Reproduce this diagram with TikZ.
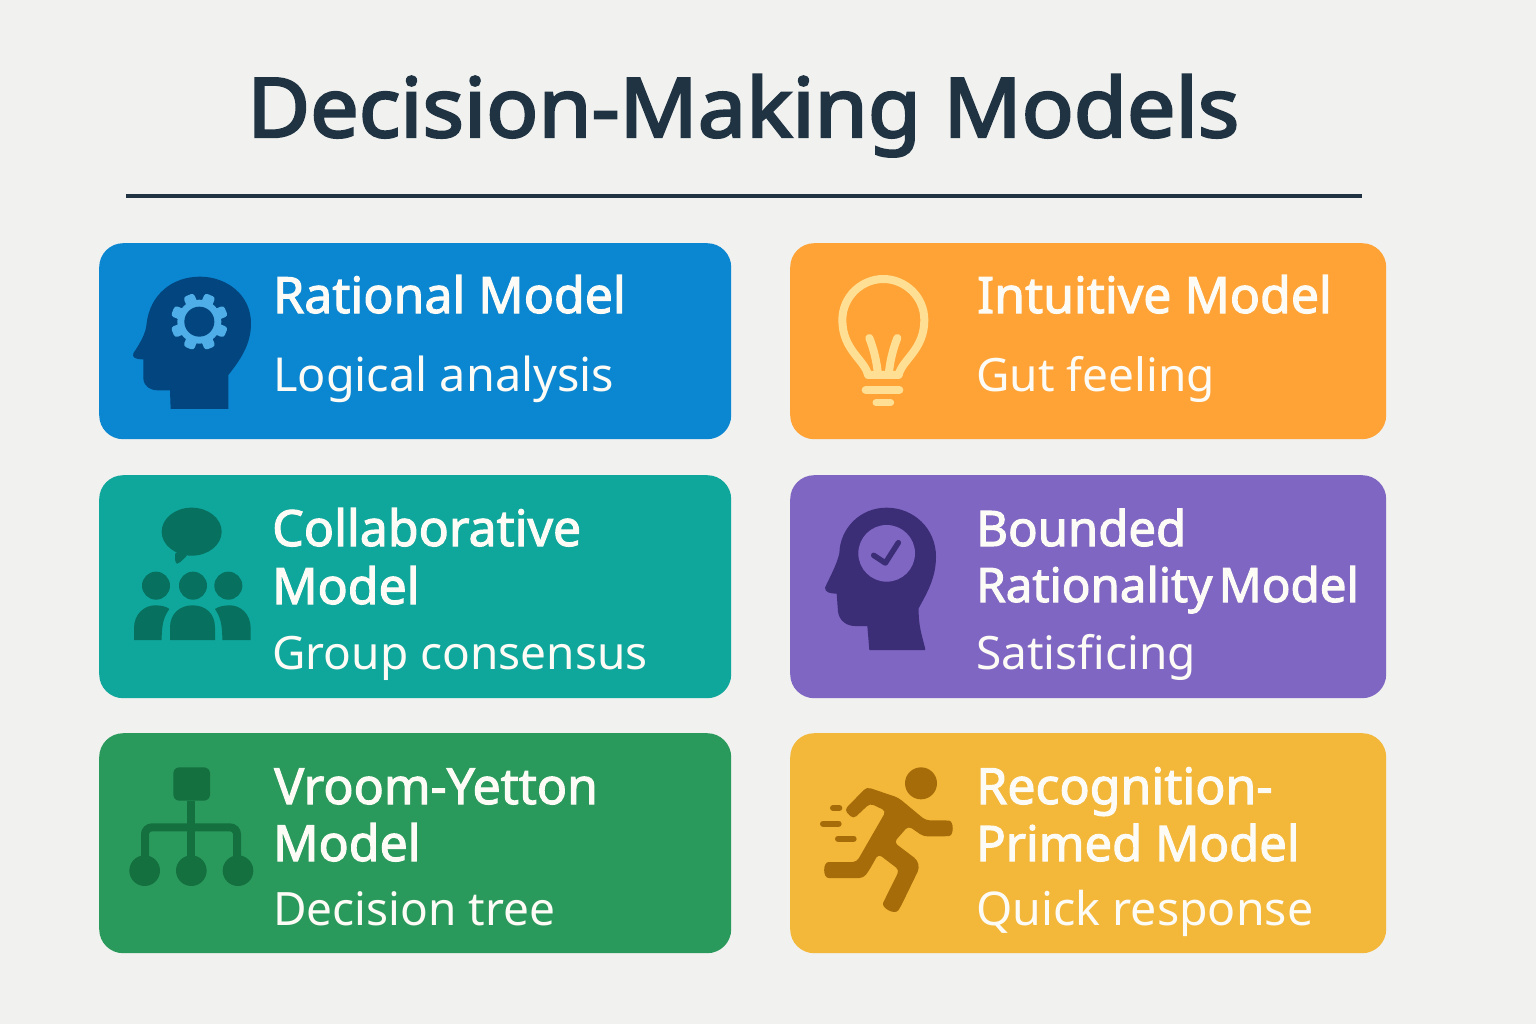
\documentclass[tikz,border=0pt]{standalone}
\usepackage{fontspec}
\setmainfont{Noto Sans}
\newfontfamily\semifont{Noto Sans}[FakeBold=2.2]
\newfontfamily\titlefont{Noto Sans}[FakeBold=3,FakeStretch=1.05]
\newcommand{\titlesize}{\fontsize{82.2}{90}\selectfont}
\newcommand{\headsize}{\fontsize{50}{58}\selectfont}
\newcommand{\subsize}{\fontsize{46}{52}\selectfont}
\definecolor{bgcol}{HTML}{F1F1EF}
\definecolor{inkcol}{HTML}{1F3342}
\definecolor{textcol}{HTML}{FDFBF5}
\definecolor{bluecol}{HTML}{0B86D1}
\definecolor{bluedark}{HTML}{03457E}
\definecolor{bluelight}{HTML}{4FAEE8}
\definecolor{orangecol}{HTML}{FFA336}
\definecolor{orangelight}{HTML}{FFDF94}
\definecolor{tealcol}{HTML}{0FA69B}
\definecolor{tealdark}{HTML}{07705F}
\definecolor{purplecol}{HTML}{7F66C2}
\definecolor{purpledark}{HTML}{3B2E77}
\definecolor{greencol}{HTML}{2A9A5C}
\definecolor{greendark}{HTML}{14703F}
\definecolor{yellowcol}{HTML}{F3B73A}
\definecolor{yellowdark}{HTML}{A66C09}
\tikzset{
  card/.style={rounded corners=24pt, minimum width=#1, inner sep=0pt, anchor=north west},
  headtext/.style={text=textcol, font=\headsize\semifont, anchor=base west, inner sep=0pt},
  subtext/.style={text=textcol, font=\subsize, anchor=base west, inner sep=0pt}
}
\begin{document}
\begin{tikzpicture}[x=1pt,y=-1pt]
  \useasboundingbox (0,0) rectangle (1536,1024);
  \fill[bgcol] (0,0) rectangle (1536,1024);

  \node[text=inkcol, font=\titlesize\titlefont, anchor=base west, inner sep=0pt] (title) at (247,137) {Decision-Making Models};
  \draw[inkcol, line width=3.5pt] (126,196) -- (1362,196);

  \node[card=632pt, fill=bluecol, minimum height=196pt] (rational) at (99,243) {};
  \node[card=596pt, fill=orangecol, minimum height=196pt] (intuitive) at (790,243) {};
  \node[card=632pt, fill=tealcol, minimum height=223pt] (collab) at (99,475) {};
  \node[card=596pt, fill=purplecol, minimum height=223pt] (bounded) at (790,475) {};
  \node[card=632pt, fill=greencol, minimum height=220pt] (vroom) at (99,733) {};
  \node[card=596pt, fill=yellowcol, minimum height=220pt] (recog) at (790,733) {};

  \node[headtext] (rationalhead) at (273,313) {Rational Model};
  \node[subtext, font=\fontsize{46.8}{52}\selectfont] (rationalsub) at (273,391) {Logical analysis};
  \node[headtext] (intuitivehead) at (977,313) {Intuitive Model};
  \node[subtext] (intuitivesub) at (976,391) {Gut feeling};
  \node[headtext] (collabhead) at (272,546) {Collaborative};
  \node[headtext] (collabhead2) at (272,604) {Model};
  \node[subtext] (collabsub) at (272,669) {Group consensus};
  \node[headtext, font=\fontsize{49}{58}\selectfont\semifont] (boundedhead) at (976,546) {Bounded};
  \node[headtext, font=\fontsize{47.5}{58}\selectfont\semifont] (boundedhead2) at (976,602) {Rationality\hspace{-6pt} Model};
  \node[subtext] (boundedsub) at (976,669) {Satisficing};
  \node[headtext] (vroomhead) at (274,804) {Vroom-Yetton};
  \node[headtext] (vroomhead2) at (273,861) {Model};
  \node[subtext] (vroomsub) at (273,925) {Decision tree};
  \node[headtext] (recoghead) at (976,804) {Recognition-};
  \node[headtext, font=\fontsize{49}{58}\selectfont\semifont] (recoghead2) at (976,861) {Primed Model};
  \node[subtext, font=\fontsize{46.5}{52}\selectfont] (recogsub) at (976,925) {Quick response};

  % head with gear
  \begin{scope}[shift={(110,260)},scale=1/3]
    \fill[bluedark] (182,447) -- (355,447) -- (355,345) .. controls (395,295) and (423,250) .. (423,190)
      .. controls (423,105) and (350,50) .. (270,50) .. controls (185,50) and (120,105) .. (110,190)
      .. controls (108,220) and (90,250) .. (70,280) .. controls (66,292) and (75,298) .. (100,298)
      -- (100,355) .. controls (102,380) and (120,391) .. (145,391) -- (180,391) -- cycle;
    \foreach \a in {22.5,67.5,...,337.5}
      \fill[bluelight, rotate around={\a:(268,185)}, rounded corners=3pt] (268,168) rectangle (354,202);
    \fill[bluelight] (268,185) circle (66);
    \fill[bluedark] (268,185) circle (45);
  \end{scope}

  % bulb
  \begin{scope}[shift={(810,260)},scale=1/3]
    \draw[orangelight, line width=8pt, line join=round] (174,345) .. controls (165,300) and (97,270) .. (97,180)
      .. controls (97,110) and (155,57) .. (220,57) .. controls (285,57) and (343,110) .. (343,180)
      .. controls (343,270) and (275,300) .. (266,345) -- cycle;
    \draw[orangelight, line width=8pt, line cap=round] (178,234) .. controls (190,265) and (200,300) .. (204,345);
    \draw[orangelight, line width=8pt, line cap=round] (262,234) .. controls (250,265) and (240,300) .. (236,345);
    \draw[orangelight, line width=8pt, line cap=round] (167,390) -- (268,390);
    \draw[orangelight, line width=7pt, line cap=round] (198,428) -- (242,428);
  \end{scope}

  % group with speech bubble
  \begin{scope}[shift={(110,495)},scale=1/3]
    \fill[tealdark] (245,110) ellipse (90 and 72);
    \fill[tealdark, rounded corners=3pt] (195,170) -- (195,203) -- (205,207) -- (235,178) -- cycle;
    \foreach \x in {138,249,355}
      \fill[tealdark] (\x,272) circle (42);
    \fill[tealdark] (180,435) -- (180,398) .. controls (180,355) and (210,331) .. (248,331)
      .. controls (286,331) and (315,355) .. (315,398) -- (315,435) -- cycle;
    \fill[tealdark] (72,435) -- (72,400) .. controls (72,355) and (105,331) .. (135,331)
      .. controls (155,331) and (170,335) .. (178,342) .. controls (162,365) and (155,385) .. (155,435) -- cycle;
    \fill[tealdark] (422,435) -- (422,400) .. controls (422,355) and (390,331) .. (360,331)
      .. controls (340,331) and (325,335) .. (315,342) .. controls (330,365) and (337,385) .. (337,435) -- cycle;
  \end{scope}

  % head with check mark
  \begin{scope}[shift={(810,495)},scale=1/3]
    \fill[purpledark] (178,465) -- (345,465) -- (345,458) .. controls (335,420) and (325,390) .. (326,340)
      .. controls (350,295) and (378,250) .. (378,185) .. controls (378,100) and (310,38) .. (230,38)
      .. controls (150,38) and (90,100) .. (88,175) .. controls (80,210) and (60,245) .. (45,278)
      .. controls (45,292) and (60,296) .. (80,296) -- (84,350) .. controls (88,378) and (110,393) .. (135,393)
      -- (172,393) -- cycle;
    \fill[purplecol] (230,175) circle (85);
    \draw[purpledark, line width=5.5pt, line cap=round, line join=round] (191,181) -- (226,204) -- (265,143);
  \end{scope}

  % decision tree
  \begin{scope}[shift={(110,755)},scale=1/3]
    \fill[greendark, rounded corners=6pt] (190,37) rectangle (300,137);
    \draw[greendark, line width=8pt] (243,137) -- (243,345);
    \draw[greendark, line width=8pt, rounded corners=7pt] (105,345) -- (105,217) -- (381,217) -- (381,345);
    \foreach \x in {104,244,384}
      \fill[greendark] (\x,347) circle (46);
  \end{scope}

  % runner
  \begin{scope}[shift={(810,755)},scale=1/3]
    \fill[yellowdark] (333,85) circle (48);
    \fill[yellowdark, rounded corners=4pt] (103,165) -- (170,96) -- (265,128) -- (347,196) -- (405,196)
      .. controls (432,198) and (432,242) .. (405,244) -- (340,244) -- (295,213) -- (252,262) -- (322,315)
      -- (328,340) -- (272,455) .. controls (255,482) and (212,458) .. (225,432) -- (268,345) -- (205,297)
      -- (175,350) -- (160,369) -- (68,369) .. controls (38,369) and (38,321) .. (68,321) -- (140,321)
      -- (228,168) -- (180,145) -- (130,192) -- cycle;
    \draw[yellowdark, line width=6pt, line cap=round] (69,159) -- (88,159);
    \draw[yellowdark, line width=6pt, line cap=round] (39,206) -- (86,206);
    \draw[yellowdark, line width=6pt, line cap=round] (84,251) -- (131,251);
  \end{scope}
\end{tikzpicture}
\end{document}
